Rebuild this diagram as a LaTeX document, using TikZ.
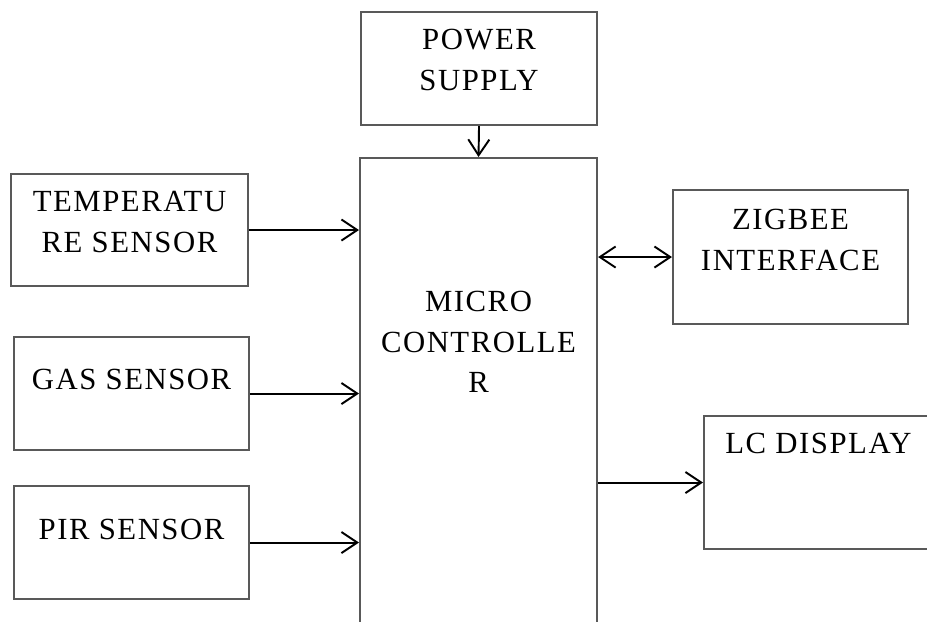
\documentclass[tikz,border=0pt]{standalone}
\usepackage{fontspec}
\setmainfont[LetterSpace=5]{Liberation Serif}
\usetikzlibrary{arrows.meta, positioning, calc}

\tikzset{
  blockbox/.style={draw=black!65, line width=1.2pt, anchor=north west, inner sep=0pt},
  blocktext/.style={anchor=north, align=center, inner sep=0pt, font=\fontsize{17.5}{23}\selectfont},
  sig/.style={-{Straight Barb[length=9pt, width=12pt, line width=1.1pt]}, line width=1.1pt},
  bisig/.style={{Straight Barb[length=9pt, width=12pt, line width=1.1pt]}-{Straight Barb[length=9pt, width=12pt, line width=1.1pt]}, line width=1.1pt}
}

\begin{document}
\begin{tikzpicture}[x=0.02cm, y=-0.02cm]
  \useasboundingbox (0,0) rectangle (927,622);
  \clip (0,0) rectangle (927,622);

  % Blocks
  \node[blockbox, minimum width=4.72cm, minimum height=2.26cm] (power) at (360,11) {};
  \node[blockbox, minimum width=4.74cm, minimum height=9.66cm] (micro) at (359,157) {};
  \node[blockbox, minimum width=4.74cm, minimum height=2.24cm] (temp) at (10,173) {};
  \node[blockbox, minimum width=4.70cm, minimum height=2.26cm] (gas) at (13,336) {};
  \node[blockbox, minimum width=4.70cm, minimum height=2.26cm] (pir) at (13,485) {};
  \node[blockbox, minimum width=4.70cm, minimum height=2.68cm] (zigbee) at (672,189) {};
  \node[blockbox, minimum width=4.58cm, minimum height=2.66cm] (lcd) at (703,415) {};

  % Labels
  \node[blocktext] (powertxt) at ([yshift=-0.36cm]power.north) {POWER\\SUPPLY};
  \node[blocktext] (microtxt) at ([yshift=-2.68cm]micro.north) {MICRO\\CONTROLLE\\R};
  \node[blocktext] (temptxt) at ([yshift=-0.36cm]temp.north) {TEMPERATU\\RE SENSOR};
  \node[blocktext] (gastxt) at ([yshift=-0.66cm]gas.north) {GAS SENSOR};
  \node[blocktext] (pirtxt) at ([yshift=-0.68cm]pir.north) {PIR SENSOR};
  \node[blocktext] (zigbeetxt) at ([yshift=-0.40cm]zigbee.north) {ZIGBEE\\INTERFACE};
  \node[blocktext] (lcdtxt) at ([yshift=-0.36cm]lcd.north) {LC DISPLAY};

  % Connections
  \draw[sig] (power.south) -- (micro.north);
  \draw[sig] (temp.east) -- (temp.east -| micro.west);
  \draw[sig] (gas.east) -- (gas.east -| micro.west);
  \draw[sig] (pir.east) -- (pir.east -| micro.west);
  \draw[bisig] (zigbee.west -| micro.east) -- (zigbee.west);
  \draw[sig] (micro.east |- lcd.west) -- (lcd.west);
\end{tikzpicture}
\end{document}
